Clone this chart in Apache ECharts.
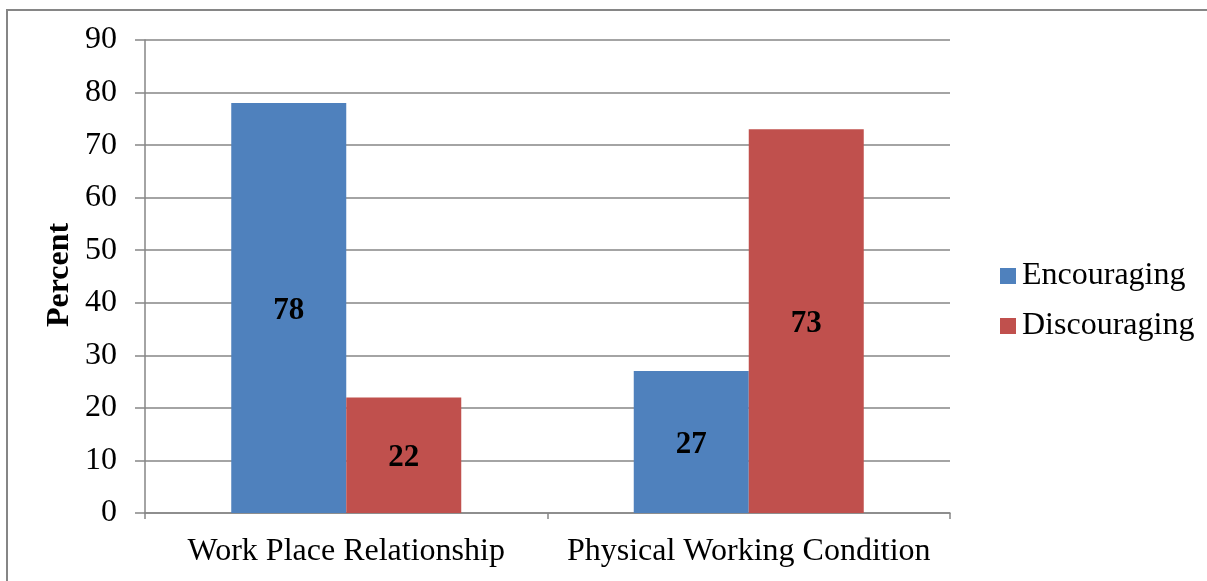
<!DOCTYPE html>
<html>
<head>
<meta charset="utf-8">
<script src="https://cdn.jsdelivr.net/npm/echarts@6/dist/echarts.min.js"></script>
<style>
  html, body { margin: 0; padding: 0; background: #fff; }
  #chart { width: 1207px; height: 581px; }
</style>
</head>
<body>
<div id="chart"></div>
<script>
// Workplace factors, share of respondents (%)
const categories = ['Work Place Relationship', 'Physical Working Condition'];
const encouraging = [78, 27];
const discouraging = [22, 73];
const yTicks = { min: 0, max: 90, interval: 10 };
const yTitle = 'Percent';

const FONT = '"Liberation Serif", "Times New Roman", serif';
const AXIS_GREY = '#868686';
const FS = 32;

const chart = echarts.init(document.getElementById('chart'));

const labelStyle = {
  show: true,
  position: 'inside',
  offset: [0, 3],
  fontFamily: FONT,
  fontSize: 31,
  fontWeight: 'bold',
  color: '#000'
};

chart.setOption({
  animation: false,
  backgroundColor: '#fff',
  graphic: [
    {
      type: 'rect',
      shape: { x: 7, y: 10, width: 1400, height: 800 },
      style: { fill: 'none', stroke: AXIS_GREY, lineWidth: 2 },
      silent: true
    },
    {
      // y-axis title, rotated to read bottom-to-top
      type: 'text',
      x: 60,
      y: 275,
      rotation: Math.PI / 2,
      style: {
        text: yTitle,
        font: 'bold ' + FS + 'px ' + FONT,
        fill: '#000',
        align: 'center',
        verticalAlign: 'middle'
      },
      silent: true
    }
  ],
  grid: { left: 145, right: 257, top: 40, bottom: 68, containLabel: false },
  legend: {
    orient: 'vertical',
    left: 995,
    top: 255,
    itemWidth: 16,
    itemHeight: 16,
    itemGap: 18,
    icon: 'rect',
    textStyle: { fontFamily: FONT, fontSize: FS, color: '#000', padding: [0, 0, 0, 1] },
    data: ['Encouraging', 'Discouraging']
  },
  xAxis: {
    type: 'category',
    data: categories,
    axisLine: { lineStyle: { color: AXIS_GREY, width: 1.5 } },
    axisTick: { show: true, length: 6, alignWithLabel: false, lineStyle: { color: AXIS_GREY, width: 1.5 } },
    axisLabel: { interval: 0, fontFamily: FONT, fontSize: FS, color: '#000', margin: 23 },
    splitLine: { show: false }
  },
  yAxis: {
    type: 'value',
    min: yTicks.min,
    max: yTicks.max,
    interval: yTicks.interval,
    axisLine: { show: true, lineStyle: { color: AXIS_GREY, width: 1.5 } },
    axisTick: { show: true, length: 10, lineStyle: { color: AXIS_GREY, width: 1.5 } },
    axisLabel: { fontFamily: FONT, fontSize: FS, color: '#000', margin: 28 },
    splitLine: { show: true, lineStyle: { color: AXIS_GREY, width: 1.5 } }
  },
  series: [
    {
      name: 'Encouraging',
      type: 'bar',
      data: encouraging,
      barWidth: 115,
      barGap: '0%',
      itemStyle: { color: '#4F81BD' },
      label: labelStyle
    },
    {
      name: 'Discouraging',
      type: 'bar',
      data: discouraging,
      barWidth: 115,
      barGap: '0%',
      itemStyle: { color: '#C0504D' },
      label: labelStyle
    }
  ]
});
</script>
</body>
</html>
